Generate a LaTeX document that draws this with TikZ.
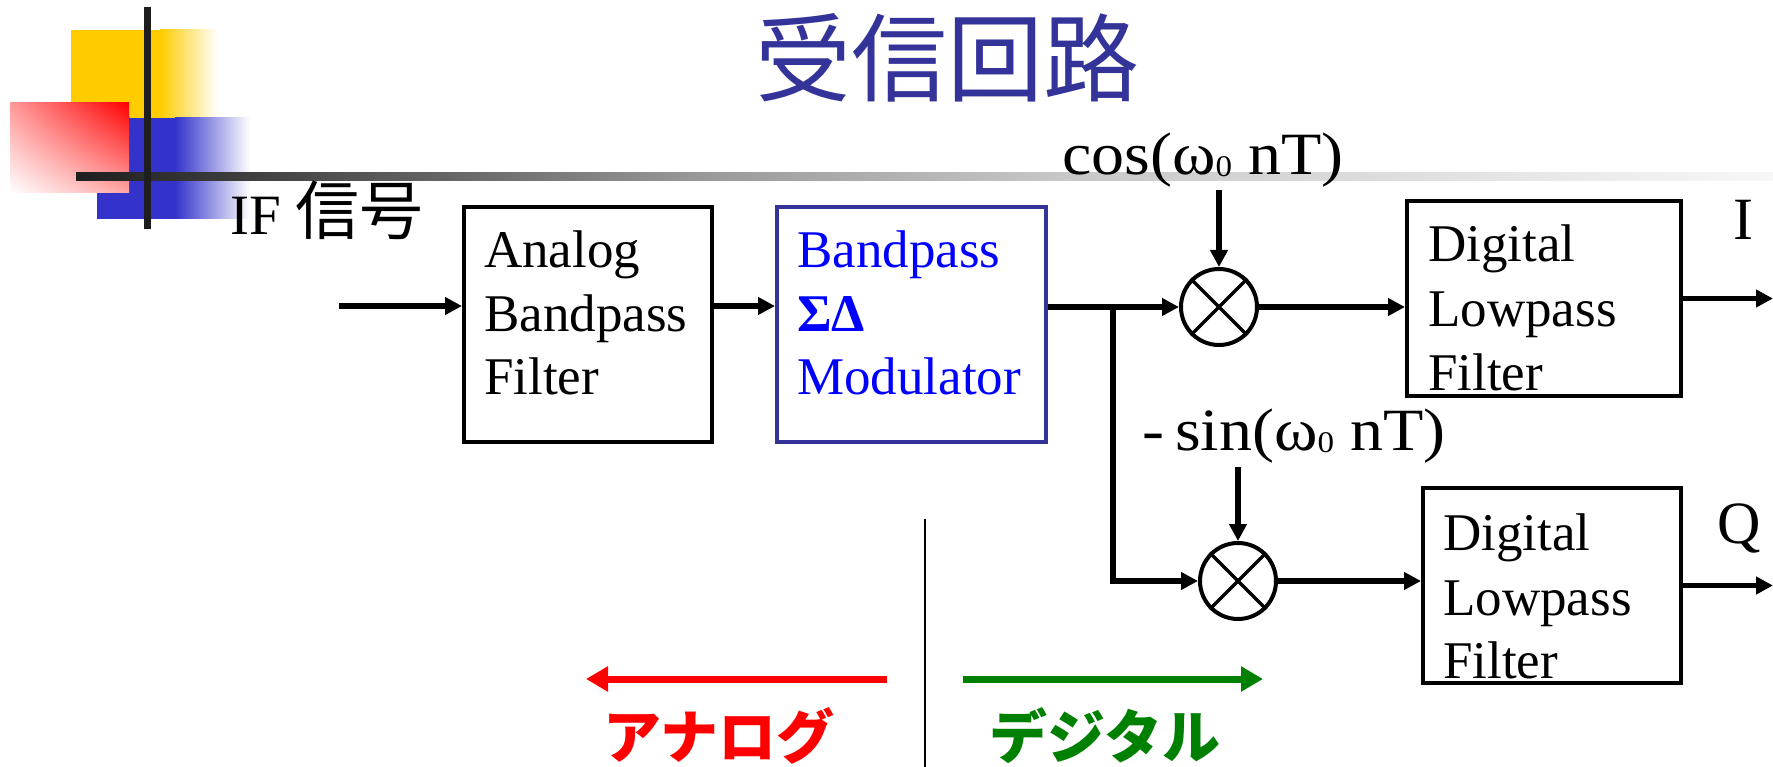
\documentclass[tikz,border=0pt]{standalone}
\usepackage{fontspec}
\setmainfont{Liberation Serif}
\newfontfamily\cjk{Noto Sans CJK JP}
\usetikzlibrary{arrows.meta,shadings}
\definecolor{titleblue}{HTML}{333399}
\definecolor{modblue}{HTML}{0000FF}
\definecolor{decoyellow}{HTML}{FFCC00}
\definecolor{decoblue}{HTML}{3333CC}
\definecolor{barblack}{HTML}{1E1E1E}
\definecolor{arrowgreen}{HTML}{008000}
\definecolor{ga}{gray}{0.12}
\definecolor{gb}{gray}{0.40}
\definecolor{gc}{gray}{0.60}
\definecolor{gd}{gray}{0.78}
\definecolor{ge}{gray}{0.97}

\begin{document}
\begin{tikzpicture}[x=1pt,y=-1pt,
  box/.style={draw, line width=4pt, inner sep=0pt},
  txt/.style={inner sep=0pt, anchor=base west, font=\fontsize{53pt}{64pt}\selectfont},
  mixer/.style={draw, circle, line width=4pt, minimum size=76pt, inner sep=0pt},
  conn/.style={line width=5.5pt, -{Triangle[length=17pt,width=17pt]}},
  bigarrow/.style={line width=7pt, -{Triangle[length=22pt,width=24pt]}},
  osc/.style={inner sep=0pt, anchor=base west, font=\fontsize{60pt}{64pt}\selectfont},
]
\useasboundingbox (0,0) rectangle (1773,767);

% ---- corner decoration ----
\fill[decoyellow] (71,30) rectangle (160,119);
\shade[left color=decoyellow, right color=white] (160,30) rectangle (218,119);
\fill[decoblue] (97,118) rectangle (175,219);
\shade[left color=decoblue, right color=white] (175,118) rectangle (250,219);
\shade[upper left=red!40!white, upper right=red, lower left=white, lower right=red!35!white]
  (10,103) rectangle (129,193);
% fading rule under the title
\shade[left color=ga, right color=gb] (76,173) rectangle (451,181);
\shade[left color=gb, right color=gc] (450,173) rectangle (701,181);
\shade[left color=gc, right color=gd] (700,173) rectangle (1061,181);
\shade[left color=gd, right color=ge] (1060,173) rectangle (1773,181);
\fill[barblack] (144,7) rectangle (151,229);

% ---- title ----
\node[inner sep=0pt, anchor=base, text=titleblue, font=\cjk\fontsize{96pt}{110pt}\selectfont]
  (title) at (947,95) {受信回路};

% ---- input label ----
\node[txt, font=\fontsize{57pt}{64pt}\selectfont] (iflbl) at (230,235)
  {IF {\cjk\fontsize{64pt}{64pt}\selectfont 信号}};
\coordinate (in) at (339,306);

% ---- analog bandpass filter ----
\node[box, minimum width=248pt, minimum height=235pt] (abpf) at (588,324.5) {};
\node[txt] (abpf1) at (484,268) {Analog};
\node[txt] (abpf2) at (484,332) {Bandpass};
\node[txt] (abpf3) at (484,395) {Filter};

% ---- bandpass sigma-delta modulator ----
\node[box, draw=titleblue, minimum width=269pt, minimum height=235pt] (mod) at (911.5,324.5) {};
\node[txt, text=modblue] (mod1) at (797,268) {Bandpass};
\node[txt, text=modblue, font=\fontsize{53pt}{64pt}\selectfont\bfseries] (mod2) at (797,332) {ΣΔ};
\node[txt, text=modblue] (mod3) at (797,395) {Modulator};

% ---- mixers ----
\node[mixer] (m1) at (1219,307) {};
\draw[line width=3.5pt] (m1.45) -- (m1.225) (m1.135) -- (m1.315);
\node[mixer] (m2) at (1238,581) {};
\draw[line width=3.5pt] (m2.45) -- (m2.225) (m2.135) -- (m2.315);

\node[osc] (cos) at (1062,175)
  {\scalebox{1.1}[1]{cos(ω\raisebox{-2pt}{\fontsize{30pt}{30pt}\selectfont 0} nT)}};
\node[osc] (sin) at (1142,450)
  {\scalebox{1.1}[1]{-\,sin(ω\raisebox{-2pt}{\fontsize{30pt}{30pt}\selectfont 0} nT)}};

% ---- digital lowpass filters ----
\node[box, minimum width=274pt, minimum height=195pt] (lpf1) at (1544,298.5) {};
\node[txt] (lpf1a) at (1428,262) {Digital};
\node[txt] (lpf1b) at (1428,327) {Lowpass};
\node[txt] (lpf1c) at (1428,390) {Filter};

\node[box, minimum width=258pt, minimum height=195pt] (lpf2) at (1552,585.5) {};
\node[txt] (lpf2a) at (1443,550) {Digital};
\node[txt] (lpf2b) at (1443,615) {Lowpass};
\node[txt] (lpf2c) at (1443,678) {Filter};

% ---- outputs ----
\node[txt, font=\fontsize{60pt}{64pt}\selectfont] (ilbl) at (1733,240) {I};
\node[txt, font=\fontsize{60pt}{64pt}\selectfont] (qlbl) at (1717,543) {Q};
\coordinate (iout) at (1773,298.5);
\coordinate (qout) at (1773,585.5);

% ---- signal path ----
\coordinate (br) at (1113,307);
\draw[conn] (in) -- (abpf.west |- in);
\draw[conn] (abpf.east |- in) -- (mod.west |- in);
\draw[line width=5.5pt] (mod.east |- br) -- (br);
\draw[conn] (br) -- (m1.west);
\draw[conn] (br) |- (m2.west);
\draw[conn] (cos.south -| m1) ++(0,2) -- (m1.north);
\draw[conn] (sin.south -| m2) ++(0,4) -- (m2.north);
\draw[conn] (m1.east) -- (lpf1.west |- m1);
\draw[conn] (m2.east) -- (lpf2.west |- m2);
\draw[conn] (lpf1.east) -- (iout);
\draw[conn] (lpf2.east) -- (qout);

% ---- analog / digital boundary ----
\coordinate (divtop) at (925,519);
\coordinate (divbot) at (925,767);
\draw[line width=2.5pt] (divtop) -- (divbot);
\coordinate (ana0) at (887,679);
\coordinate (ana1) at (586,679);
\coordinate (dig0) at (963,679);
\coordinate (dig1) at (1263,679);
\draw[bigarrow, red] (ana0) -- (ana1);
\draw[bigarrow, arrowgreen] (dig0) -- (dig1);
\node[inner sep=0pt, anchor=base, text=red, font=\cjk\bfseries\fontsize{58pt}{64pt}\selectfont]
  (analbl) at (719,758) {アナログ};
\node[inner sep=0pt, anchor=base, text=arrowgreen, font=\cjk\bfseries\fontsize{58pt}{64pt}\selectfont]
  (diglbl) at (1105,758) {デジタル};
\end{tikzpicture}
\end{document}
